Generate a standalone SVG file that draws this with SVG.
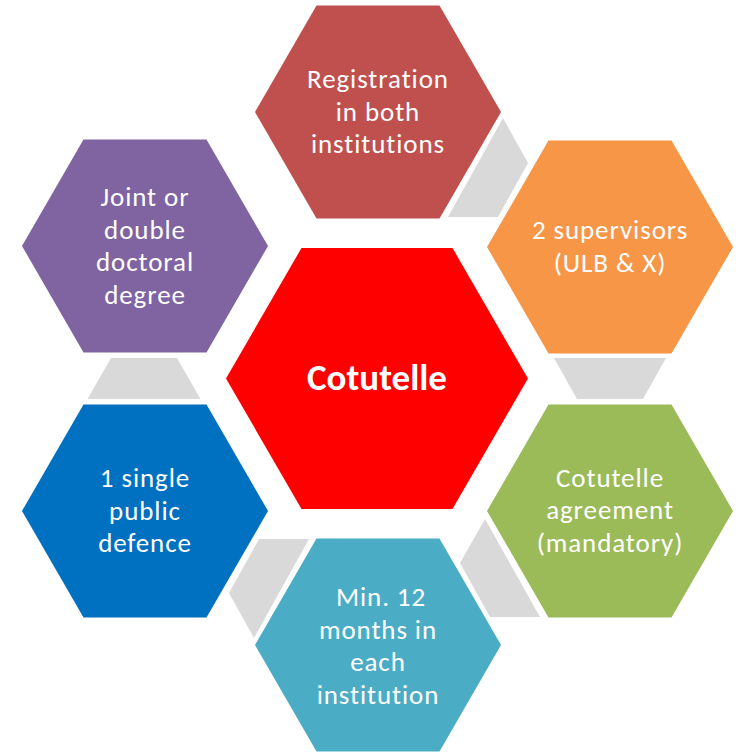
<svg xmlns="http://www.w3.org/2000/svg" width="741" height="752" viewBox="0 0 741 752">
<style>
.t{font-family:Carlito,Lato,"Noto Sans",sans-serif;font-size:27px;letter-spacing:0.9px;fill:#FFFFFF;text-anchor:middle}
.b{font-family:Carlito,Lato,"Noto Sans",sans-serif;font-size:37px;font-weight:bold;fill:#FFFFFF;text-anchor:middle}
.c{fill:#D9D9D9}
</style>
<defs>
<polygon id="hex" points="-123,0 -61.5,-106.5 61.5,-106.5 123,0 61.5,106.5 -61.5,106.5"/>
</defs>
<rect width="741" height="752" fill="#FFFFFF"/>
<g id="connectors">
<polygon class="c" points="503,118 528,163 498,217 448,217"/>
<polygon class="c" points="554,358 666,358 643,399 577,399"/>
<polygon class="c" points="485,519 460,563 490,617 540,617"/>
<polygon class="c" points="259,539 309,539 254,638 229,593"/>
<polygon class="c" points="111,358 177,358 200.5,399 87.5,399"/>
</g>
<g id="center">
<polygon points="226,378.5 301.5,248 452.5,248 528,378.5 452.5,509 301.5,509" fill="#FF0000"/>
<text class="b" x="377" y="390">Cotutelle</text>
</g>
<g id="registration">
<use href="#hex" x="378" y="112" fill="#C0504D"/>
<text class="t" x="378" y="88">Registration</text>
<text class="t" x="378" y="120.5">in both</text>
<text class="t" x="378" y="153">institutions</text>
</g>
<g id="supervisors">
<use href="#hex" x="610" y="247" fill="#F79646"/>
<text class="t" x="610" y="239">2 supervisors</text>
<text class="t" x="610" y="271.5">(ULB &amp; X)</text>
</g>
<g id="agreement">
<use href="#hex" x="610" y="511" fill="#9BBB59"/>
<text class="t" x="610" y="486.5">Cotutelle</text>
<text class="t" x="610" y="519">agreement</text>
<text class="t" x="610" y="551.5">(mandatory)</text>
</g>
<g id="months">
<use href="#hex" x="378" y="645" fill="#4BACC6"/>
<text class="t" x="381" y="606">Min. 12</text>
<text class="t" x="378" y="638.5">months in</text>
<text class="t" x="378" y="671">each</text>
<text class="t" x="378" y="703.5">institution</text>
</g>
<g id="defence">
<use href="#hex" x="145" y="511" fill="#0070C0"/>
<text class="t" x="145" y="487">1 single</text>
<text class="t" x="145" y="519.5">public</text>
<text class="t" x="145" y="552">defence</text>
</g>
<g id="degree">
<use href="#hex" x="145" y="246" fill="#8064A2"/>
<text class="t" x="145" y="206">Joint or</text>
<text class="t" x="145" y="238.5">double</text>
<text class="t" x="145" y="271">doctoral</text>
<text class="t" x="145" y="303.5">degree</text>
</g>
</svg>
